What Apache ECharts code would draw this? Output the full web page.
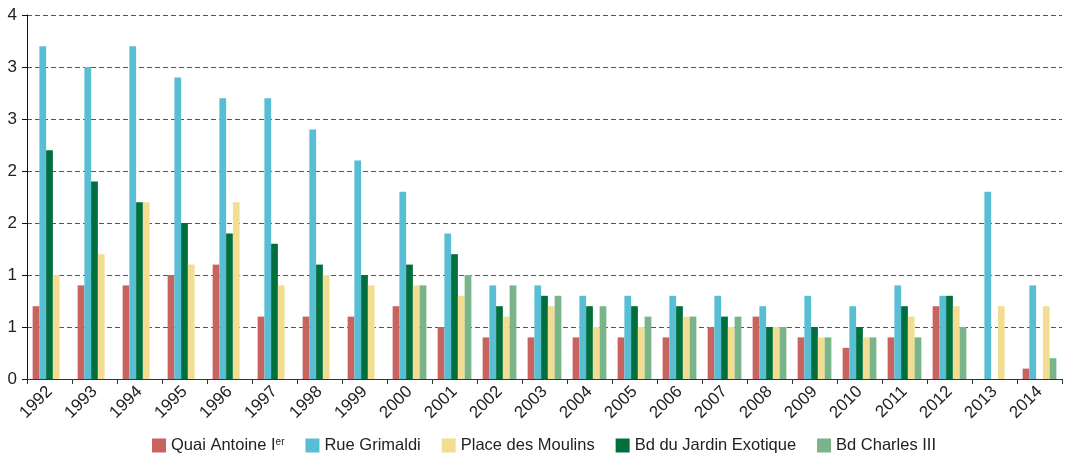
<!DOCTYPE html>
<html>
<head>
<meta charset="utf-8">
<script src="https://cdn.jsdelivr.net/npm/echarts@6/dist/echarts.min.js"></script>
<style>
  html, body { margin: 0; padding: 0; background: #fff; }
  #chart { width: 1068px; height: 456px; }
</style>
</head>
<body>
<div id="chart"></div>
<script>
const years = ['1992','1993','1994','1995','1996','1997','1998','1999','2000','2001','2002','2003','2004','2005','2006','2007','2008','2009','2010','2011','2012','2013','2014'];

const quaiAntoine = [0.7,0.9,0.9,1.0,1.1,0.6,0.6,0.6,0.7,0.5,0.4,0.4,0.4,0.4,0.4,0.5,0.6,0.4,0.3,0.4,0.7,null,0.1];
const rueGrimaldi = [3.2,3.0,3.2,2.9,2.7,2.7,2.4,2.1,1.8,1.4,0.9,0.9,0.8,0.8,0.8,0.8,0.7,0.8,0.7,0.9,0.8,1.8,0.9];
const jardinExotique = [2.2,1.9,1.7,1.5,1.4,1.3,1.1,1.0,1.1,1.2,0.7,0.8,0.7,0.7,0.7,0.6,0.5,0.5,0.5,0.7,0.8,null,null];
const placeMoulins = [1.0,1.2,1.7,1.1,1.7,0.9,1.0,0.9,0.9,0.8,0.6,0.7,0.5,0.5,0.6,0.5,0.5,0.4,0.4,0.6,0.7,0.7,0.7];
const charlesIII = [null,null,null,null,null,null,null,null,0.9,1.0,0.9,0.8,0.7,0.6,0.6,0.6,0.5,0.4,0.4,0.4,0.5,null,0.2];

const seriesNames = ['Quai Antoine Ier','Rue Grimaldi','Bd du Jardin Exotique','Place des Moulins','Bd Charles III'];
const legendOrder = ['Quai Antoine Ier','Rue Grimaldi','Place des Moulins','Bd du Jardin Exotique','Bd Charles III'];
const colors = ['#C9635F','#58BED3','#006E3D','#F3DD93','#79B48A'];
const seriesData = [quaiAntoine, rueGrimaldi, jardinExotique, placeMoulins, charlesIII];

const FONT = '"Liberation Sans", Arial, sans-serif';
const chart = echarts.init(document.getElementById('chart'), null, { renderer: 'canvas' });

chart.setOption({
  animation: false,
  backgroundColor: '#ffffff',
  textStyle: { fontFamily: FONT },
  grid: { left: 27, right: 6, top: 15, bottom: 77, containLabel: false },
  legend: {
    data: legendOrder,
    left: 152,
    top: 437,
    padding: 0,
    itemWidth: 14,
    itemHeight: 14,
    itemGap: 21,
    icon: 'rect',
    textStyle: {
      fontFamily: FONT, fontSize: 16.5, color: '#222',
      rich: { sup: { fontFamily: FONT, fontSize: 10, color: '#222', verticalAlign: 'top', padding: [0,0,6,0] } }
    },
    formatter: function (name) {
      if (name === 'Quai Antoine Ier') return 'Quai Antoine I{sup|er}';
      return name;
    }
  },
  xAxis: {
    type: 'category',
    data: years,
    axisLine: { lineStyle: { color: '#333', width: 1 } },
    axisTick: { show: true, length: 5, lineStyle: { color: '#333' } },
    axisLabel: { interval: 0, rotate: 45, fontSize: 17, color: '#222', margin: 10, fontFamily: FONT }
  },
  yAxis: {
    type: 'value',
    min: 0, max: 3.5, interval: 0.5,
    axisLine: { show: true, lineStyle: { color: '#111', width: 1 } },
    axisTick: { show: true, length: 5, lineStyle: { color: '#111' } },
    axisLabel: {
      fontSize: 17, color: '#222', margin: 10, fontFamily: FONT,
      formatter: function (v) { return String(Math.round(v)); }
    },
    splitLine: { show: true, lineStyle: { color: '#555', type: [5, 3], width: 1 } }
  },
  series: seriesNames.map((n, i) => ({
    name: n,
    type: 'bar',
    data: seriesData[i],
    barGap: '0%',
    barCategoryGap: '25%',
    itemStyle: { color: colors[i] }
  }))
});
</script>
</body>
</html>
